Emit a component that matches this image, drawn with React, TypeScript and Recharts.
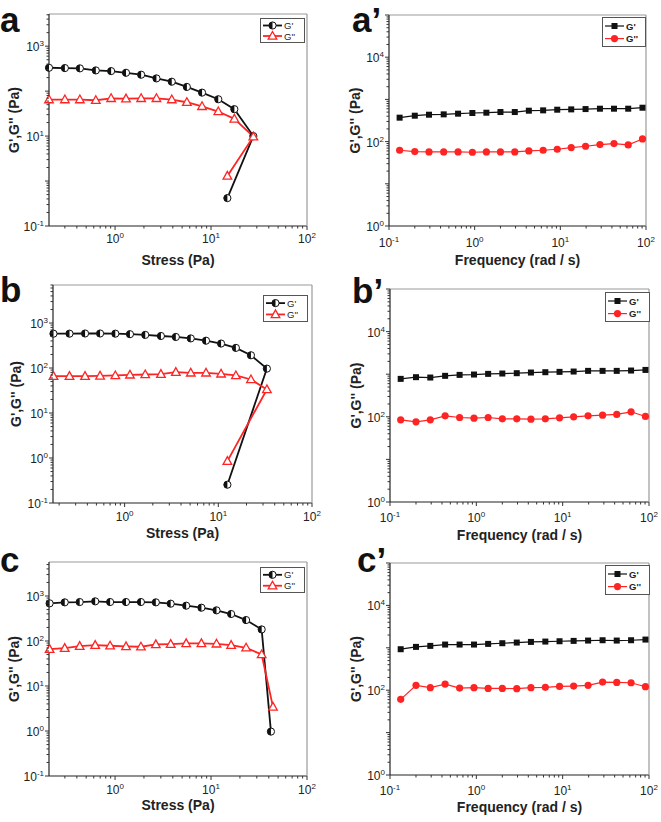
import React from 'react';
import { LineChart, Line, XAxis, YAxis, Legend, Label } from 'recharts';

const RED = '#ff2424';
const BLACK = '#111';
const FRAME = '#9a9a9a';
const FONT = '"Liberation Sans", Arial, sans-serif';

// stress sweeps (a, b, c)
const stressA = [0.205, 0.3, 0.43, 0.63, 0.91, 1.3, 1.87, 2.7, 3.9, 5.6, 8.06, 11.9, 17.5, 27.6, 14.8];
const gpA = [331, 326, 321, 289, 279, 256, 232, 192, 162, 124, 92.7, 66, 39.7, 10, 0.417];
const gppA = [65, 65, 65, 62.7, 69.3, 68.2, 69.3, 69.3, 65, 56.6, 46, 35.2, 24.2, 9.7, 1.3];

const stressB = [0.174, 0.258, 0.378, 0.547, 0.796, 1.14, 1.66, 2.44, 3.52, 5.08, 7.39, 10.7, 15.4, 22.3, 33, 12.5];
const gpB = [580, 580, 585, 585, 580, 565, 545, 515, 490, 455, 405, 350, 280, 192, 97, 0.255];
const gppB = [65.9, 65.9, 65.9, 67, 68.3, 70.6, 71.8, 73, 80.9, 78.2, 78.2, 74.3, 68.3, 55.6, 33.4, 0.85];

const stressC = [0.208, 0.299, 0.428, 0.621, 0.888, 1.3, 1.86, 2.66, 3.8, 5.51, 7.94, 11.4, 16.2, 23.2, 33.7, 42.1];
const stressC2 = [0.208, 0.299, 0.428, 0.621, 0.888, 1.3, 1.86, 2.66, 3.8, 5.51, 7.94, 11.4, 16.2, 23.2, 33.7, 44.2];
const gpC = [687, 723, 735, 761, 735, 735, 735, 723, 675, 609, 550, 480, 398, 292, 181, 0.97];
const gppC = [66, 69.5, 77, 81, 78.4, 75.7, 74.5, 84, 85.4, 88.3, 88.3, 86.8, 81, 70.8, 50.2, 3.44];

// frequency sweeps (a', b', c')
const freq = [0.133, 0.2, 0.293, 0.435, 0.64, 0.94, 1.37, 2.0, 2.94, 4.29, 6.3, 9.2, 13.4, 19.7, 29, 42.3, 62, 91];
const gpA2 = [369, 411, 434, 442, 459, 476, 484, 502, 502, 540, 550, 570, 580, 590, 602, 602, 602, 635];
const gppA2 = [62.4, 58, 57, 57, 57, 56, 57, 57, 57, 60.2, 62.4, 65.9, 72.2, 77.6, 85, 89.8, 83.4, 115.6];
const gpB2 = [777, 851, 835, 915, 964, 982, 1018, 1037, 1056, 1094, 1114, 1134, 1155, 1197, 1197, 1197, 1219, 1260];
const gppB2 = [85, 76.3, 85, 105.5, 96.4, 93, 96.4, 89.8, 89.8, 88.1, 89.8, 94.8, 100, 105.5, 109.3, 113.5, 131, 101.8];
const gpC2 = [926, 1051, 1110, 1193, 1193, 1193, 1236, 1282, 1329, 1377, 1403, 1428, 1455, 1482, 1508, 1482, 1508, 1563];
const gppC2 = [60.9, 130, 114.6, 139.6, 112.4, 114.6, 110.4, 110.4, 108.4, 114.6, 116.7, 123, 125.4, 130, 155.6, 152.8, 150, 120.9];

// ticks
const stressMajors = [1, 10, 100];
const freqMajors = [0.1, 1, 10, 100];
const modMajorsLeft = [0.1, 1, 10, 100, 1000];
const modMajorsRight = [1, 10, 100, 1000, 10000, 100000];
const labelsYa = [0.1, 10, 1000];
const labelsYbc = [0.1, 1, 10, 100, 1000];
const labelsYright = [1, 100, 10000];
const labelsStress = [1, 10, 100];
const labelsFreq = [0.1, 1, 10, 100];

const zip = (xs: number[], ys: number[]) => xs.map((x, i) => ({ x, y: ys[i] }));

const isMajor = (v: number) => {
  const l = Math.log10(v);
  return Math.abs(l - Math.round(l)) < 1e-6;
};
const has = (arr: number[], v: number) => arr.some((a) => Math.abs(a - v) / a < 1e-6);

function withMinors(majors: number[], lo: number, hi: number) {
  const out: number[] = [];
  for (const m of [majors[0] / 10, ...majors]) {
    for (let k = 1; k < 10; k++) {
      const v = +(m * k).toPrecision(6);
      if (v >= lo * 0.999 && v <= hi * 1.001 && !has(out, v)) out.push(v);
    }
  }
  return out.sort((a, b) => a - b);
}

function Pow({ x, y, v, anchor }: { x: number; y: number; v: number; anchor: 'end' | 'middle' }) {
  const e = Math.round(Math.log10(v));
  return (
    <text x={x} y={y} textAnchor={anchor} fontFamily={FONT} fontSize={12} fill="#222">
      <tspan>10</tspan>
      <tspan dy={-5} fontSize={8}>{e < 0 ? `-${-e}` : `${e}`}</tspan>
    </text>
  );
}

const makeXTick = (labels: number[], dy: number) => (props: any) => {
  const { x, y, payload } = props;
  const v = payload.value;
  const major = isMajor(v);
  return (
    <g key={`xt-${v}`}>
      <line x1={x} x2={x} y1={y} y2={y + (major ? 4 : 2.5)} stroke="#333" />
      {major && has(labels, v) ? <Pow x={x} y={y + dy} v={v} anchor="middle" /> : null}
    </g>
  );
};

const makeYTick = (labels: number[]) => (props: any) => {
  const { x, y, payload } = props;
  const v = payload.value;
  const major = isMajor(v);
  return (
    <g key={`yt-${v}`}>
      <line x1={x - (major ? 4 : 2.5)} x2={x} y1={y} y2={y} stroke="#333" />
      {major && has(labels, v) ? <Pow x={x - 5} y={y + 5} v={v} anchor="end" /> : null}
    </g>
  );
};

// markers
function HalfDot({ cx, cy, r = 3.6 }: { cx: number; cy: number; r?: number }) {
  return (
    <g>
      <circle cx={cx} cy={cy} r={r} fill="#fff" stroke={BLACK} strokeWidth={1} />
      <path d={`M${cx},${cy - r} A${r},${r} 0 0 0 ${cx},${cy + r} Z`} fill={BLACK} />
    </g>
  );
}
function OpenTri({ cx, cy }: { cx: number; cy: number }) {
  return (
    <polygon
      points={`${cx},${cy - 4.5} ${cx - 4.3},${cy + 3.2} ${cx + 4.3},${cy + 3.2}`}
      fill="#fff"
      stroke={RED}
      strokeWidth={1.3}
    />
  );
}
function Sq({ cx, cy }: { cx: number; cy: number }) {
  return <rect x={cx - 3} y={cy - 3} width={6} height={6} fill={BLACK} />;
}
function Dot({ cx, cy }: { cx: number; cy: number }) {
  return <circle cx={cx} cy={cy} r={3.6} fill={RED} />;
}

const dotFn = (Comp: any, tag: string) => (p: any) => {
  if (p.cx == null || p.cy == null) return <g key={`${tag}-${p.index}`} />;
  return <Comp key={`${tag}-${p.index}`} cx={p.cx} cy={p.cy} />;
};

function LegendBox({ kind, w, h }: { kind: 'stress' | 'freq'; w: number; h: number }) {
  const rows = [
    { name: "G'", color: BLACK, Mark: kind === 'stress' ? HalfDot : Sq, y: h * 0.3 },
    { name: "G''", color: RED, Mark: kind === 'stress' ? OpenTri : Dot, y: h * 0.72 },
  ];
  return (
    <svg width={w} height={h} style={{ display: 'block' }}>
      <rect x={0.5} y={0.5} width={w - 1} height={h - 1} fill="#fff" stroke="#555" />
      {rows.map((r) => (
        <g key={r.name}>
          <line x1={3} x2={22} y1={r.y} y2={r.y} stroke={r.color} strokeWidth={kind === 'stress' ? 1.8 : 1.2} />
          <r.Mark cx={12.5} cy={r.y} />
          <text
            x={24}
            y={r.y + 3.5}
            fontFamily={FONT}
            fontSize={9.5}
            fontWeight={kind === 'freq' ? 700 : 400}
            fill="#222"
          >
            {r.name}
          </text>
        </g>
      ))}
    </svg>
  );
}

interface PanelProps {
  box: { x: number; y: number; w: number; h: number };
  plot: { l: number; t: number; r: number; b: number };
  kind: 'stress' | 'freq';
  xDomain: [number, number];
  yDomain: [number, number];
  xMajors: number[];
  yMajors: number[];
  xLabels: number[];
  yLabels: number[];
  g1: { x: number; y: number }[];
  g2: { x: number; y: number }[];
  xTitle: string;
  xTickDy: number;
  xTitleOffset: number;
  yTitleOffset: number;
  legend: { l: number; t: number; w: number; h: number };
}

function Panel(p: PanelProps) {
  // axes get 1px boxes (recharts skips axes with a zero size)
  const margin = {
    left: p.plot.l - 1,
    top: p.plot.t - 1,
    right: p.box.w - p.plot.r - 1,
    bottom: p.box.h - p.plot.b - 1,
  };
  const xt = withMinors(p.xMajors, p.xDomain[0], p.xDomain[1]);
  const yt = withMinors(p.yMajors, p.yDomain[0], p.yDomain[1]);
  const stress = p.kind === 'stress';
  return (
    <div style={{ position: 'absolute', left: p.box.x, top: p.box.y }}>
      <LineChart width={p.box.w} height={p.box.h} margin={margin}>
        <XAxis
          dataKey="x"
          type="number"
          scale="log"
          domain={p.xDomain}
          ticks={xt}
          interval={0}
          height={1}
          tickSize={0}
          tickMargin={0}
          tickLine={false}
          tick={makeXTick(p.xLabels, p.xTickDy)}
          axisLine={{ stroke: '#222', strokeWidth: 1.2 }}
        >
          <Label
            value={p.xTitle}
            position="bottom"
            offset={p.xTitleOffset}
            style={{ fontFamily: FONT, fontSize: 14, fontWeight: 700, fill: '#222' }}
          />
        </XAxis>
        <XAxis
          xAxisId="top"
          orientation="top"
          dataKey="x"
          type="number"
          scale="log"
          domain={p.xDomain}
          allowDataOverflow
          height={1}
          tick={false}
          tickLine={false}
          axisLine={{ stroke: FRAME, strokeWidth: 1.2 }}
        />
        <YAxis
          dataKey="y"
          type="number"
          scale="log"
          domain={p.yDomain}
          ticks={yt}
          interval={0}
          width={1}
          tickSize={0}
          tickMargin={0}
          tickLine={false}
          tick={makeYTick(p.yLabels)}
          axisLine={{ stroke: '#222', strokeWidth: 1.2 }}
        >
          <Label
            value="G',G'' (Pa)"
            position="left"
            angle={-90}
            offset={p.yTitleOffset}
            style={{ fontFamily: FONT, fontSize: 14, fontWeight: 700, fill: '#222', textAnchor: 'middle' }}
          />
        </YAxis>
        <YAxis
          yAxisId="right"
          orientation="right"
          dataKey="y"
          type="number"
          scale="log"
          domain={p.yDomain}
          allowDataOverflow
          width={1}
          tick={false}
          tickLine={false}
          axisLine={{ stroke: FRAME, strokeWidth: 1.2 }}
        />
        <Legend
          layout="vertical"
          align="center"
          verticalAlign="middle"
          wrapperStyle={{ left: p.legend.l, top: p.legend.t, width: p.legend.w, height: p.legend.h }}
          content={() => <LegendBox kind={p.kind} w={p.legend.w} h={p.legend.h} />}
        />
        <Line
          data={p.g1}
          dataKey="y"
          name="G'"
          type="linear"
          stroke={BLACK}
          strokeWidth={stress ? 1.8 : 1.2}
          dot={dotFn(stress ? HalfDot : Sq, 'g1')}
          activeDot={false}
          isAnimationActive={false}
        />
        <Line
          data={p.g2}
          dataKey="y"
          name="G''"
          type="linear"
          stroke={RED}
          strokeWidth={stress ? 1.8 : 1.2}
          dot={dotFn(stress ? OpenTri : Dot, 'g2')}
          activeDot={false}
          isAnimationActive={false}
        />
      </LineChart>
    </div>
  );
}

const letters = [
  { t: 'a', x: 0, y: 32 },
  { t: 'a\u2019', x: 352, y: 32 },
  { t: 'b', x: 0, y: 302 },
  { t: 'b\u2019', x: 352, y: 303 },
  { t: 'c', x: 0, y: 572 },
  { t: 'c\u2019', x: 357, y: 572 },
];

export default function App() {
  return (
    <div style={{ position: 'absolute', left: 0, top: 0, width: 661, height: 822, background: '#fff', overflow: 'hidden' }}>
      <Panel
        box={{ x: 0, y: 0, w: 330, h: 290 }}
        plot={{ l: 49, t: 14, r: 307, b: 226 }}
        kind="stress"
        xDomain={[0.205, 100]}
        yDomain={[0.1, 5200]}
        xMajors={stressMajors}
        yMajors={modMajorsLeft}
        xLabels={labelsStress}
        yLabels={labelsYa}
        g1={zip(stressA, gpA)}
        g2={zip(stressA, gppA)}
        xTitle="Stress (Pa)"
        xTickDy={17}
        xTitleOffset={28}
        yTitleOffset={34}
        legend={{ l: 260, t: 18, w: 45, h: 25 }}
      />
      <Panel
        box={{ x: 0, y: 270, w: 330, h: 290 }}
        plot={{ l: 53, t: 15, r: 312, b: 233 }}
        kind="stress"
        xDomain={[0.172, 100]}
        yDomain={[0.1, 7000]}
        xMajors={stressMajors}
        yMajors={modMajorsLeft}
        xLabels={labelsStress}
        yLabels={labelsYbc}
        g1={zip(stressB, gpB)}
        g2={zip(stressB, gppB)}
        xTitle="Stress (Pa)"
        xTickDy={18}
        xTitleOffset={24}
        yTitleOffset={36}
        legend={{ l: 263, t: 25, w: 45, h: 27 }}
      />
      <Panel
        box={{ x: 0, y: 540, w: 330, h: 290 }}
        plot={{ l: 49, t: 22, r: 307, b: 236 }}
        kind="stress"
        xDomain={[0.205, 100]}
        yDomain={[0.1, 5700]}
        xMajors={stressMajors}
        yMajors={modMajorsLeft}
        xLabels={labelsStress}
        yLabels={labelsYbc}
        g1={zip(stressC, gpC)}
        g2={zip(stressC2, gppC)}
        xTitle="Stress (Pa)"
        xTickDy={18}
        xTitleOffset={23}
        yTitleOffset={34}
        legend={{ l: 260, t: 27, w: 45, h: 26 }}
      />
      <Panel
        box={{ x: 330, y: 0, w: 331, h: 290 }}
        plot={{ l: 59, t: 15, r: 316, b: 226 }}
        kind="freq"
        xDomain={[0.1, 100]}
        yDomain={[1, 100000]}
        xMajors={freqMajors}
        yMajors={modMajorsRight}
        xLabels={labelsFreq}
        yLabels={labelsYright}
        g1={zip(freq, gpA2)}
        g2={zip(freq, gppA2)}
        xTitle="Frequency (rad / s)"
        xTickDy={21}
        xTitleOffset={28}
        yTitleOffset={33}
        legend={{ l: 272, t: 17, w: 44, h: 30 }}
      />
      <Panel
        box={{ x: 330, y: 270, w: 331, h: 290 }}
        plot={{ l: 60, t: 19, r: 319, b: 232 }}
        kind="freq"
        xDomain={[0.1, 100]}
        yDomain={[1, 100000]}
        xMajors={freqMajors}
        yMajors={modMajorsRight}
        xLabels={labelsFreq}
        yLabels={labelsYright}
        g1={zip(freq, gpB2)}
        g2={zip(freq, gppB2)}
        xTitle="Frequency (rad / s)"
        xTickDy={20}
        xTitleOffset={27}
        yTitleOffset={33}
        legend={{ l: 275, t: 22, w: 45, h: 30 }}
      />
      <Panel
        box={{ x: 330, y: 540, w: 331, h: 290 }}
        plot={{ l: 60, t: 23, r: 319, b: 235 }}
        kind="freq"
        xDomain={[0.1, 100]}
        yDomain={[1, 100000]}
        xMajors={freqMajors}
        yMajors={modMajorsRight}
        xLabels={labelsFreq}
        yLabels={labelsYright}
        g1={zip(freq, gpC2)}
        g2={zip(freq, gppC2)}
        xTitle="Frequency (rad / s)"
        xTickDy={20}
        xTitleOffset={26}
        yTitleOffset={33}
        legend={{ l: 275, t: 25, w: 45, h: 30 }}
      />
      <svg width={661} height={822} style={{ position: 'absolute', left: 0, top: 0, pointerEvents: 'none' }}>
        {letters.map((l) => (
          <text key={l.t} x={l.x} y={l.y} fontFamily={FONT} fontWeight={700} fontSize={35} fill="#111">
            {l.t}
          </text>
        ))}
      </svg>
    </div>
  );
}
